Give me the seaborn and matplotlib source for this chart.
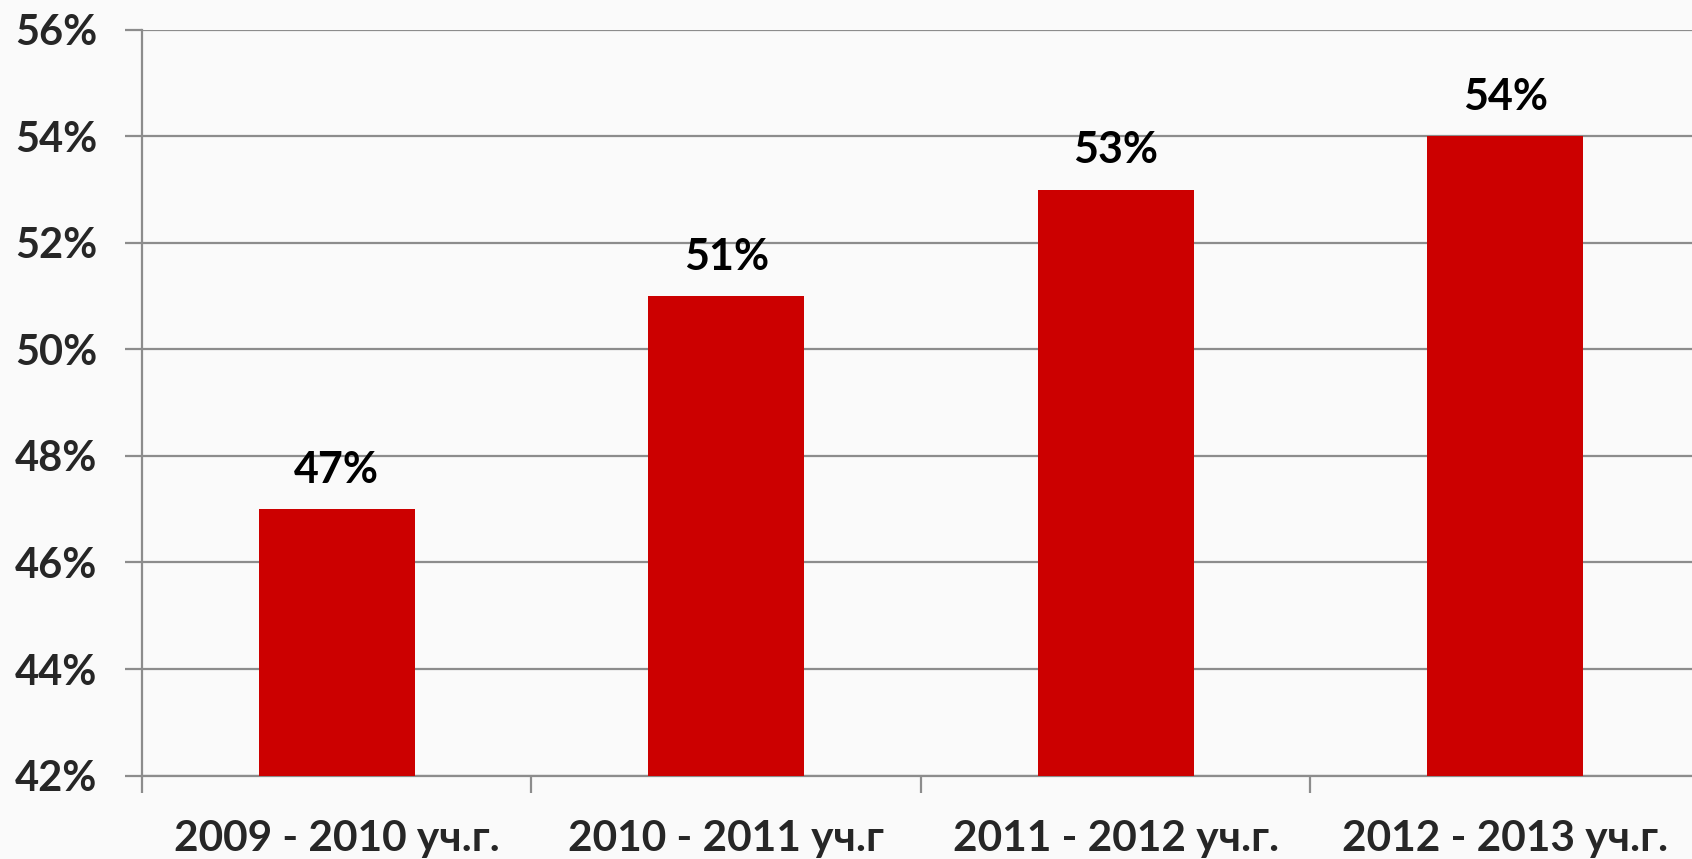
import matplotlib
matplotlib.use("Agg")
import matplotlib.pyplot as plt
import seaborn as sns
import pandas as pd
from matplotlib.ticker import MultipleLocator, FuncFormatter, FixedLocator

# данные
years = ["2009 - 2010 уч.г.", "2010 - 2011 уч.г", "2011 - 2012 уч.г.", "2012 - 2013 уч.г."]
values = [47, 51, 53, 54]
value_labels = ["47%", "51%", "53%", "54%"]

df = pd.DataFrame({"year": years, "value": values})

sns.set_style("white")
plt.rcParams["font.family"] = ["Lato", "DejaVu Sans"]
plt.rcParams["font.weight"] = "bold"

fig = plt.figure(figsize=(16.92, 8.59), dpi=100)
fig.patch.set_facecolor("#fafafa")
ax = fig.add_axes([0.0839, 0.0972, 0.9208, 0.8679])
ax.set_facecolor("#fafafa")

sns.barplot(data=df, x="year", y="value", color="#cc0000", width=0.4,
            saturation=1, linewidth=0, ax=ax, zorder=3)

ax.set_ylim(42, 56)
ax.set_xlim(-0.5, 3.5)
ax.yaxis.set_major_locator(MultipleLocator(2))
ax.yaxis.set_major_formatter(FuncFormatter(lambda v, p: f"{v:.0f}%"))
ax.grid(axis="y", color="#8c8c8c", linewidth=1.6, zorder=0)
ax.set_axisbelow(True)

for s in ["top", "right"]:
    ax.spines[s].set_visible(False)
for s in ["left", "bottom"]:
    ax.spines[s].set_color("#8c8c8c")
    ax.spines[s].set_linewidth(1.6)

# засечки по границам категорий
ax.xaxis.set_major_locator(FixedLocator([0, 1, 2, 3]))
ax.xaxis.set_minor_locator(FixedLocator([-0.5, 0.5, 1.5, 2.5]))
ax.tick_params(axis="x", which="major", bottom=True, length=0, pad=32, labelsize=30.5)
ax.tick_params(axis="x", which="minor", bottom=True, length=12, width=1.6,
               color="#8c8c8c", direction="out")
ax.tick_params(axis="y", left=True, length=12, width=1.6, color="#8c8c8c", direction="out",
               pad=20, labelsize=30)
ax.set_xticklabels(years, fontweight="bold")
for t in ax.get_yticklabels():
    t.set_fontweight("bold")

for i, (v, lab) in enumerate(zip(values, value_labels)):
    ax.annotate(lab, (i, v), xytext=(0, 14), textcoords="offset points",
                ha="center", va="bottom", fontsize=31, fontweight="bold", color="black")

ax.set_xlabel("")
ax.set_ylabel("")

fig.savefig("out.png", dpi=100, facecolor=fig.get_facecolor())
